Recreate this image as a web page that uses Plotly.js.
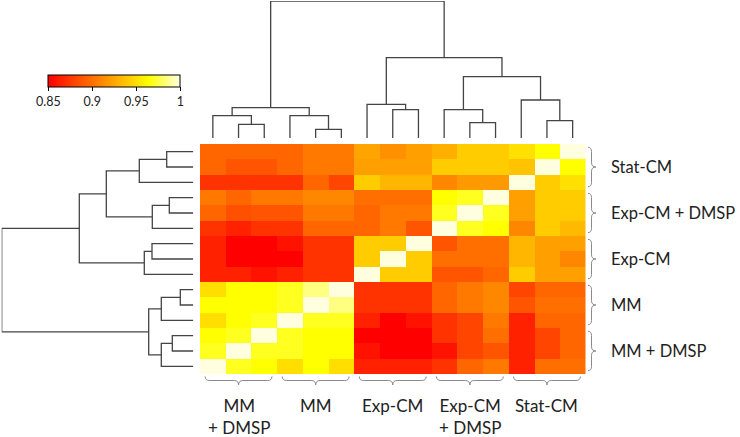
<!DOCTYPE html>
<html>
<head>
<meta charset="utf-8">
<script src="https://cdn.plot.ly/plotly-3.0.1.min.js"></script>
<style>html,body{margin:0;padding:0;background:#fff}#chart{width:740px;height:437px}</style>
</head>
<body>
<div id="chart"></div>
<script>
// ---- data ----
const colGroups = ['MM<br>+ DMSP', 'MM', 'Exp-CM', 'Exp-CM<br>+ DMSP', 'Stat-CM'];
const rowGroups = ['Stat-CM', 'Exp-CM + DMSP', 'Exp-CM', 'MM', 'MM + DMSP'];
const samplesPerGroup = 3;

// correlation matrix, rows top -> bottom, columns left -> right
const corrRows = [
  [0.896,0.896,0.896,0.896,0.904,0.904,0.924,0.915,0.922,0.929,0.942,0.942,0.951,0.965,1.000],
  [0.896,0.888,0.888,0.896,0.904,0.904,0.922,0.922,0.922,0.942,0.942,0.942,0.938,1.000,0.965],
  [0.873,0.873,0.873,0.873,0.896,0.881,0.942,0.932,0.932,0.911,0.919,0.919,1.000,0.942,0.951],
  [0.904,0.896,0.904,0.904,0.911,0.911,0.900,0.900,0.900,0.965,0.970,1.000,0.922,0.942,0.942],
  [0.896,0.886,0.888,0.888,0.904,0.904,0.896,0.904,0.904,0.970,1.000,0.970,0.922,0.942,0.942],
  [0.873,0.865,0.873,0.873,0.896,0.896,0.896,0.904,0.888,1.000,0.970,0.965,0.911,0.942,0.934],
  [0.865,0.850,0.850,0.858,0.873,0.873,0.942,0.942,1.000,0.888,0.900,0.900,0.932,0.922,0.922],
  [0.865,0.850,0.850,0.850,0.873,0.873,0.942,1.000,0.942,0.900,0.900,0.900,0.932,0.922,0.911],
  [0.865,0.865,0.858,0.865,0.873,0.873,1.000,0.942,0.942,0.888,0.888,0.896,0.942,0.922,0.922],
  [0.950,0.965,0.965,0.970,0.985,1.000,0.873,0.873,0.873,0.896,0.904,0.911,0.881,0.896,0.896],
  [0.965,0.965,0.965,0.970,1.000,0.985,0.873,0.873,0.873,0.896,0.904,0.911,0.888,0.900,0.900],
  [0.950,0.965,0.970,1.000,0.970,0.970,0.865,0.850,0.858,0.873,0.881,0.904,0.865,0.896,0.896],
  [0.965,0.970,1.000,0.970,0.965,0.965,0.850,0.850,0.850,0.873,0.881,0.900,0.865,0.881,0.896],
  [0.970,1.000,0.970,0.970,0.965,0.965,0.858,0.850,0.850,0.858,0.881,0.888,0.865,0.881,0.896],
  [1.000,0.970,0.965,0.950,0.965,0.950,0.865,0.865,0.865,0.873,0.896,0.904,0.865,0.900,0.900]
];

// dendrogram merges [childA, childB, height]; ids >= 15 refer to earlier merges
const colMerges = [
  [1,2,13.7],[0,15,22.3],[4,5,8.7],[3,17,22.3],[16,18,30.3],
  [7,8,28.3],[6,20,33.7],[10,11,15.3],[9,22,28.3],[13,14,17.3],
  [12,24,38.0],[23,25,61.3],[21,26,80.3],[19,27,137.0]
];
const rowMerges = [
  [0,1,26.6],[2,15,54.0],[3,4,24.0],[5,17,41.0],[16,18,87.0],
  [6,7,41.3],[8,20,49.0],[19,21,114.0],[9,10,13.0],[11,23,32.0],
  [12,13,21.0],[14,25,32.0],[24,26,44.6],[22,27,191.6]
];

const tickVals = [0.85, 0.9, 0.95, 1];
const tickText = ['0.85', '0.9', '0.95', '1'];

// ---- helpers ----
const W = 740, H = 437;
const n = corrRows.length;
const idx = corrRows.map((_, i) => i);

function dendroSegments(merges, nLeaves) {
  const pos = [], hgt = [];
  for (let i = 0; i < nLeaves; i++) { pos.push(i); hgt.push(0); }
  const P = [], Hh = [];
  merges.forEach(([a, b, h]) => {
    P.push(pos[a], pos[a], pos[b], pos[b], null);
    Hh.push(hgt[a], h, h, hgt[b], null);
    pos.push((pos[a] + pos[b]) / 2);
    hgt.push(h);
  });
  return {P, Hh};
}
const colD = dendroSegments(colMerges, n);
const rowD = dendroSegments(rowMerges, n);

const font = 'Lato, "Open Sans", sans-serif';
const txtColor = '#222';

const heat = {
  type: 'heatmap', z: corrRows, x: idx, y: idx,
  zmin: 0.85, zmax: 1,
  colorscale: [[0, '#FF0000'], [0.7667, '#FFFF00'], [1, '#FFFFE0']],
  hoverinfo: 'skip',
  colorbar: {
    orientation: 'h', x: 48.3 / W, xanchor: 'left', y: 1 - 75 / H, yanchor: 'top',
    len: 131.7, lenmode: 'pixels', thickness: 11.7, thicknessmode: 'pixels',
    outlinewidth: 1, outlinecolor: '#000', xpad: 0, ypad: 0,
    tickvals: tickVals, ticktext: tickText, ticks: 'outside', ticklen: 4, tickcolor: '#000',
    tickfont: {family: font, size: 12.5, color: txtColor}
  }
};

const colTrace = {
  type: 'scatter', mode: 'lines', x: colD.P, y: colD.Hh, xaxis: 'x2', yaxis: 'y2',
  line: {color: '#444', width: 1.3}, hoverinfo: 'skip', cliponaxis: false, connectgaps: false
};
const rowTrace = {
  type: 'scatter', mode: 'lines', x: rowD.Hh, y: rowD.P, xaxis: 'x3', yaxis: 'y3',
  line: {color: '#444', width: 1.3}, hoverinfo: 'skip', cliponaxis: false, connectgaps: false
};

const hmX = [200 / W, 585.5 / W];
const hmY = [1 - 374 / H, 1 - 144 / H];
const hidden = {showgrid: false, zeroline: false, showticklabels: false, ticks: '', showline: false, fixedrange: true};

const shapes = [];
const annotations = [];
const braceColor = '#8a8a8a';
rowGroups.forEach((g, k) => {
  const yT = k * samplesPerGroup - 0.5 + 0.22, yB = (k + 1) * samplesPerGroup - 0.5 - 0.22, yM = k * samplesPerGroup + 1;
  const x0 = 588 / W, x1 = 591.5 / W, x2 = 596 / W, d = 0.28;
  shapes.push({type: 'path', xref: 'paper', yref: 'y',
    path: `M ${x0},${yT} Q ${x1},${yT} ${x1},${yT + d} L ${x1},${yM - d} Q ${x1},${yM} ${x2},${yM} Q ${x1},${yM} ${x1},${yM + d} L ${x1},${yB - d} Q ${x1},${yB} ${x0},${yB}`,
    line: {color: braceColor, width: 1}});
  annotations.push({xref: 'paper', yref: 'y', x: 609 / W, y: yM, xanchor: 'left', yanchor: 'middle',
    text: g, showarrow: false, font: {family: font, size: 16.5, color: txtColor}});
});
colGroups.forEach((g, k) => {
  const xL = k * samplesPerGroup - 0.5 + 0.2, xR = (k + 1) * samplesPerGroup - 0.5 - 0.2, xM = k * samplesPerGroup + 1;
  const y0 = 1 - 376.5 / H, y1 = 1 - 380.5 / H, y2 = 1 - 385 / H, d = 0.17;
  shapes.push({type: 'path', xref: 'x', yref: 'paper',
    path: `M ${xL},${y0} Q ${xL},${y1} ${xL + d},${y1} L ${xM - d},${y1} Q ${xM},${y1} ${xM},${y2} Q ${xM},${y1} ${xM + d},${y1} L ${xR - d},${y1} Q ${xR},${y1} ${xR},${y0}`,
    line: {color: braceColor, width: 1}});
  annotations.push({xref: 'x', yref: 'paper', x: xM, y: 1 - 393 / H, xanchor: 'center', yanchor: 'top',
    text: g, align: 'center', showarrow: false, font: {family: font, size: 17, color: txtColor}});
});

const layout = {
  width: W, height: H, margin: {l: 0, r: 0, t: 0, b: 0},
  paper_bgcolor: '#fff', plot_bgcolor: 'rgba(0,0,0,0)', showlegend: false,
  xaxis: Object.assign({domain: hmX, range: [-0.5, n - 0.5]}, hidden),
  yaxis: Object.assign({domain: hmY, range: [n - 0.5, -0.5]}, hidden),
  xaxis2: Object.assign({domain: hmX, range: [-0.5, n - 0.5], anchor: 'y2'}, hidden),
  yaxis2: Object.assign({domain: [1 - 138 / H, 1 - 1 / H], range: [0, 137], anchor: 'x2'}, hidden),
  xaxis3: Object.assign({domain: [1.7 / W, 193.3 / W], range: [191.6, 0], anchor: 'y3'}, hidden),
  yaxis3: Object.assign({domain: hmY, range: [n - 0.5, -0.5], anchor: 'x3'}, hidden),
  shapes: shapes, annotations: annotations
};

Plotly.newPlot('chart', [heat, colTrace, rowTrace], layout, {displayModeBar: false, staticPlot: true});
</script>
</body>
</html>
